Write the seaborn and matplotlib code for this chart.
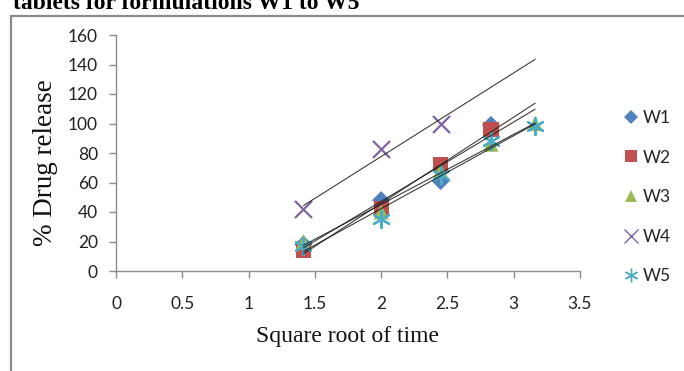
import numpy as np
import pandas as pd
import matplotlib
matplotlib.use("Agg")
import matplotlib.pyplot as plt
import seaborn as sns
from matplotlib.lines import Line2D
from matplotlib.patches import Rectangle

# ---- data ----
x_time = [1.414, 2.0, 2.449, 2.828, 3.162]
series_names = ["W1", "W2", "W3", "W4", "W5"]
w1 = [18, 48, 61, 99]
w2 = [14, 42, 72, 96]
w3 = [20, 40, 68, 86, 100]
w4 = [42, 83, 100]
w5 = [17, 35, 65, 88, 98]
x_ticks = [0, 0.5, 1, 1.5, 2, 2.5, 3, 3.5]
y_ticks = [0, 20, 40, 60, 80, 100, 120, 140, 160]

values = {"W1": w1, "W2": w2, "W3": w3, "W4": w4, "W5": w5}
colors = {"W1": "#4F81BD", "W2": "#C0504D", "W3": "#9BBB59",
          "W4": "#8064A2", "W5": "#4BACC6"}
markers = {"W1": "D", "W2": "s", "W3": "^", "W4": "x", "W5": (6, 2, 0)}
sizes = {"W1": 85, "W2": 120, "W3": 120, "W4": 150, "W5": 150}

rows = []
for name in series_names:
    for xv, yv in zip(x_time, values[name]):
        rows.append({"series": name, "x": xv, "y": yv})
df = pd.DataFrame(rows)

sns.set_theme(style="white")
plt.rcParams["font.family"] = ["Lato", "DejaVu Sans"]

fig = plt.figure(figsize=(6.84, 3.71), dpi=100)
ax = fig.add_axes([116 / 684, 1 - 271 / 371, (580 - 116) / 684, (271 - 35) / 371])

for name in series_names:
    sub = df[df["series"] == name]
    filled = name not in ("W4", "W5")
    sns.scatterplot(data=sub, x="x", y="y", ax=ax, color=colors[name],
                    marker=markers[name], s=sizes[name],
                    linewidth=0 if filled else 1.6,
                    edgecolor="none" if filled else colors[name],
                    zorder=3, legend=False)

# linear trendlines over the full time range
xr = np.array([min(x_time), max(x_time)])
for name in series_names:
    sub = df[df["series"] == name]
    k, b = np.polyfit(sub["x"], sub["y"], 1)
    ax.plot(xr, k * xr + b, color="#1a1a1a", lw=0.8, alpha=0.85, zorder=4)

ax.set_xlim(0, 3.5)
ax.set_ylim(0, 160)
ax.set_xticks(x_ticks)
ax.set_xticklabels([f"{t:g}" for t in x_ticks])
ax.set_yticks(y_ticks)
ax.set_yticklabels([str(t) for t in y_ticks])

for side in ("top", "right"):
    ax.spines[side].set_visible(False)
for side in ("left", "bottom"):
    ax.spines[side].set_color("#8c8c8c")
    ax.spines[side].set_linewidth(1.0)
ax.tick_params(axis="x", direction="out", length=5, width=1, color="#8c8c8c",
               pad=13, labelsize=12.5, labelcolor="#222222", bottom=True)
ax.tick_params(axis="y", direction="out", length=5, width=1, color="#8c8c8c",
               pad=8, labelsize=12.5, labelcolor="#222222", left=True)
ax.grid(False)

ax.set_xlabel("Square root of time", family=["Liberation Serif", "DejaVu Serif"],
              fontsize=17, color="#111111")
ax.xaxis.set_label_coords(0.5, -0.235)
ax.set_ylabel("% Drug release", family=["Liberation Serif", "DejaVu Serif"],
              fontsize=19.5, color="#111111")
ax.yaxis.set_label_coords(-0.125, 0.46)

handles = []
for name in series_names:
    filled = name not in ("W4", "W5")
    handles.append(Line2D([], [], linestyle="none", marker=markers[name],
                          color=colors[name],
                          markersize=np.sqrt(sizes[name]) * 0.8,
                          markeredgewidth=0 if filled else 1.0,
                          label=name))
fig.legend(handles=handles, loc="upper left",
           bbox_to_anchor=(614 / 684, 1 - 103 / 371), frameon=False,
           fontsize=12.5, labelspacing=1.36, handletextpad=0.05,
           handlelength=1.2, borderaxespad=0)

# outer chart frame (partially cut off)
fig.patches.append(Rectangle((11 / 684, -0.2), 1.2, 1 - 16 / 371 + 0.2,
                             transform=fig.transFigure, fill=False,
                             edgecolor="#8a8a8a", linewidth=1.6))

# partially visible caption above the chart
fig.text(13 / 684, 1 - 9 / 371, "tablets for formulations W1 to W5",
         family=["Liberation Serif", "DejaVu Serif"], fontweight="bold",
         fontsize=17, va="baseline", ha="left", color="#000000")

fig.savefig("out.png", dpi=100)
